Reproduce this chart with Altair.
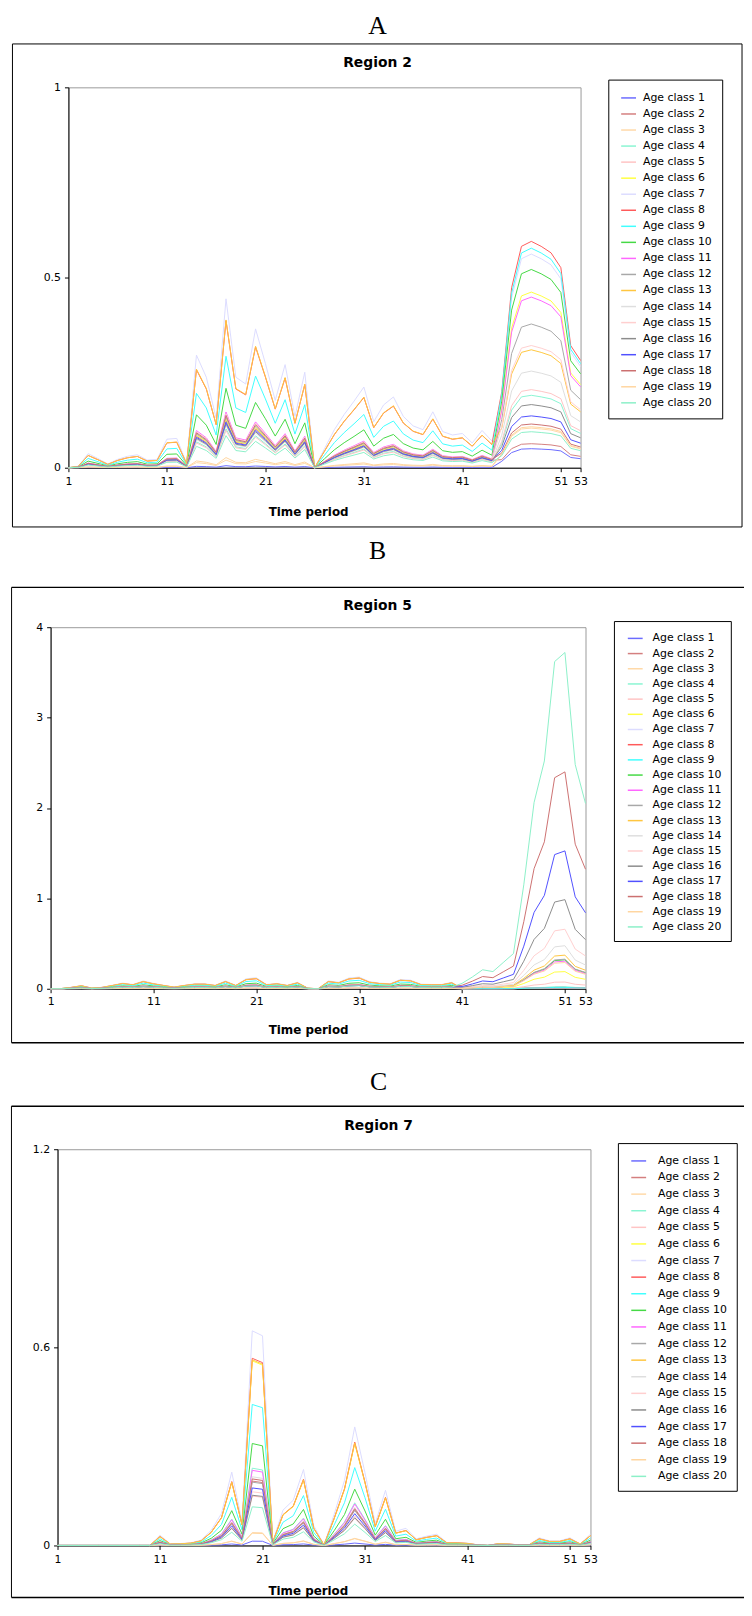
import altair as alt
import pandas as pd

# --- data ---------------------------------------------------------------
periods = list(range(1, 54))
age_classes = [f"Age class {i}" for i in range(1, 21)]
age_colors = ["#6b6bff", "#d47f7f", "#ffd9a8", "#8af5d2", "#ffc4c4",
              "#ffff40", "#dcdcff", "#ff5a5a", "#40ffff", "#45d945",
              "#ff66ff", "#a8a8a8", "#ffc640", "#dedede", "#ffcfcf",
              "#8c8c8c", "#5050ff", "#cc7070", "#ffd6a0", "#8cf0c8"]
x_ticks = [1, 11, 21, 31, 41, 51, 53]

# Region 2: level of the top line per period, and each age class relative to it
r2_level = [0.000, 0.004, 0.037, 0.024, 0.010, 0.022, 0.030, 0.034, 0.020, 0.022,
            0.075, 0.077, 0.012, 0.296, 0.238, 0.130, 0.444, 0.238, 0.220, 0.365,
            0.274, 0.177, 0.271, 0.134, 0.251, 0.000, 0.050, 0.100, 0.140, 0.175,
            0.212, 0.121, 0.165, 0.186, 0.135, 0.110, 0.100, 0.147, 0.095, 0.086,
            0.090, 0.065, 0.098, 0.070, 0.200, 0.473, 0.582, 0.595, 0.582, 0.565,
            0.526, 0.321, 0.282]
r2_share_early = [0.012, 0.28, 0.045, 0.23, 0.22, 0.29, 1.0, 0.87, 0.66, 0.47,
                  0.33, 0.30, 0.875, 0.25, 0.32, 0.26, 0.27, 0.31, 0.06, 0.19]
r2_share_late = [0.084, 0.106, 0.175, 0.32, 0.345, 0.776, 0.944, 1.0, 0.97, 0.876,
                 0.754, 0.635, 0.521, 0.427, 0.54, 0.279, 0.229, 0.193, 0.181, 0.159]
r2_late_from = 45

# Region 5
r5_level = [0.000, 0.002, 0.015, 0.033, 0.007, 0.015, 0.036, 0.058, 0.044, 0.080,
            0.055, 0.036, 0.018, 0.036, 0.051, 0.051, 0.036, 0.080, 0.036, 0.102,
            0.113, 0.044, 0.055, 0.036, 0.066, 0.007, 0.000, 0.080, 0.066, 0.110,
            0.120, 0.073, 0.058, 0.051, 0.095, 0.088, 0.047, 0.044, 0.044, 0.066,
            0.060, 0.130, 0.210, 0.190, 0.290, 0.390, 1.150, 2.060, 2.520, 3.620,
            3.720, 2.480, 2.050]
r5_share_early = [0.05, 0.30, 0.06, 0.35, 0.30, 0.35, 1.08, 0.98, 0.78, 0.55,
                  0.40, 0.35, 1.0, 0.30, 0.38, 0.30, 0.30, 0.36, 0.08, 0.28]
r5_share_late = [0.004, 0.004, 0.004, 0.006, 0.02, 0.051, 0.004, 0.004, 0.004, 0.086,
                 0.082, 0.088, 0.100, 0.128, 0.177, 0.265, 0.41, 0.645, 0.078, 1.0]
r5_late_from = 41

# Region 7
r7_level = [0.000, 0.000, 0.000, 0.000, 0.000, 0.000, 0.000, 0.000, 0.000, 0.000,
            0.031, 0.005, 0.006, 0.008, 0.016, 0.046, 0.097, 0.222, 0.072, 0.650,
            0.635, 0.012, 0.107, 0.137, 0.230, 0.060, 0.002, 0.095, 0.197, 0.359,
            0.220, 0.066, 0.167, 0.043, 0.052, 0.020, 0.028, 0.034, 0.009, 0.009,
            0.007, 0.002, 0.000, 0.006, 0.005, 0.002, 0.002, 0.023, 0.014, 0.014,
            0.023, 0.005, 0.034]
r7_share = [0.02, 0.30, 0.06, 0.36, 0.23, 0.86, 1.0, 0.872, 0.657, 0.475,
            0.35, 0.295, 0.865, 0.32, 0.25, 0.234, 0.268, 0.31, 0.057, 0.18]


def build(level, early, late, late_from):
    rows = []
    for i, name in enumerate(age_classes):
        for t, lv in zip(periods, level):
            s = late[i] if t >= late_from else early[i]
            rows.append({"period": t, "age": name, "value": lv * s})
    return pd.DataFrame(rows)


def one_row():
    return alt.Chart(pd.DataFrame({"k": [0]}))


def panel(df, letter, region, ymax, yticks, g):
    deco = one_row()
    bx0, bx1, by0, by1 = g["band"]
    # invisible band: fixes the panel's extent in the layout
    layers = [deco.mark_rect(fill="white", fillOpacity=0, strokeOpacity=0).encode(
        x=alt.value(bx0), x2=alt.value(bx1), y=alt.value(by0), y2=alt.value(by1))]
    # panel frame
    for x1, y1, x2, y2, sw in g["frame"]:
        layers.append(deco.mark_rule(color="black", strokeWidth=sw).encode(
            x=alt.value(x1), y=alt.value(y1), x2=alt.value(x2), y2=alt.value(y2)))

    lines = alt.Chart(df).mark_line(strokeWidth=1).encode(
        x=alt.X("period:Q", scale=alt.Scale(domain=[1, 53], nice=False, zero=False),
                axis=alt.Axis(values=x_ticks, title="Time period", grid=False,
                              labelOverlap=False, labelFlush=False, tickSize=4,
                              labelPadding=g["xpad"], titleX=g["tx"], titleY=g["ty"],
                              titleAlign="center", titleBaseline="middle")),
        y=alt.Y("value:Q", scale=alt.Scale(domain=[0, ymax], nice=False),
                axis=alt.Axis(values=yticks, title=None, grid=False, format=".1~f",
                              tickSize=4, labelPadding=4, labelFlush=False)),
        color=alt.Color("age:N", scale=alt.Scale(domain=age_classes, range=age_colors),
                        legend=alt.Legend(title=None, orient="none",
                                          legendX=g["lx"], legendY=g["ly"],
                                          symbolType="stroke", symbolSize=225,
                                          symbolStrokeWidth=1.5, symbolOffset=g["so"],
                                          rowPadding=g["rp"], padding=g["lp"],
                                          labelOffset=g["lo"], labelFont="DejaVu Sans",
                                          labelFontSize=11, labelColor="black",
                                          strokeColor="black", fillColor="white")),
    )
    layers.append(lines)

    layers.append(deco.mark_text(font="Liberation Serif", fontSize=26, align="center",
                                 baseline="middle", color="black").encode(
        x=alt.value(g["letter"][0]), y=alt.value(g["letter"][1]), text=alt.value(letter)))
    layers.append(deco.mark_text(font="DejaVu Sans", fontSize=14, fontWeight="bold",
                                 align="center", baseline="middle", color="black").encode(
        x=alt.value(g["title"][0]), y=alt.value(g["title"][1]), text=alt.value(region)))
    body = alt.layer(*layers).properties(width=g["w"], height=g["h"])

    # 1px spacer so each panel keeps its own left offset inside the column
    spacer = one_row().mark_rect(fillOpacity=0, strokeOpacity=0).encode(
        x=alt.value(0), x2=alt.value(1), y=alt.value(0), y2=alt.value(1)
    ).properties(width=1, height=1, view=alt.ViewBackground(stroke="transparent"))
    return alt.hconcat(spacer, body, spacing=0).resolve_scale(color="independent")


geo_a = dict(w=517, h=384, band=(-57.7, 684, -76.5, 450.8),
             frame=[(-56.5, -43.8, 680, -43.8, 1), (-56.5, 443.8, 680, 443.8, 1),
                    (-56.5, -43.8, -56.5, 443.8, 1), (680, -43.8, 680, 443.8, 1)],
             letter=(312, -62), title=(312, -24.5), tx=242, ty=44, xpad=4,
             lx=545, ly=-7.8, rp=2.2, lp=10, so=2, lo=6)
geo_b = dict(w=540, h=365, band=(-39.9, 702, -92.3, 433),
             frame=[(-39.4, -40.2, 702, -40.2, 1.5), (-39.4, 419.5, 702, 419.5, 1.5),
                    (-39.4, -40.2, -39.4, 419.5, 1)],
             letter=(330, -76.8), title=(330, -21.8), tx=260, ty=41, xpad=3,
             lx=568.7, ly=-6.2, rp=1.33, lp=9, so=4, lo=9)
geo_c = dict(w=538, h=400, band=(-45.9, 696, -92, 454),
             frame=[(-46.5, -43.5, 696, -43.5, 1.5), (-46.5, 452.5, 696, 452.5, 1.5),
                    (-46.5, -43.5, -46.5, 452.5, 1)],
             letter=(324, -67.5), title=(324, -23.5), tx=252.7, ty=45, xpad=3.8,
             lx=565.7, ly=-6.2, rp=2.76, lp=9.5, so=3, lo=11)

pa = panel(build(r2_level, r2_share_early, r2_share_late, r2_late_from),
           "A", "Region 2", 1, [0, 0.5, 1], geo_a)
pb = panel(build(r5_level, r5_share_early, r5_share_late, r5_late_from),
           "B", "Region 5", 4, [0, 1, 2, 3, 4], geo_b)
pc = panel(build(r7_level, r7_share, r7_share, 99),
           "C", "Region 7", 1.2, [0, 0.6, 1.2], geo_c)

# fixed canvas: the first plot's origin sits at the top-left padding
chart = alt.vconcat(pa, pb, pc, spacing=0).resolve_scale(
    color="independent"
).properties(
    autosize=alt.AutoSizeParams(type="none"),
    padding={"left": 0, "top": 72.5, "right": 743, "bottom": 1523.5},
).configure_view(
    stroke="#9a9a9a", strokeWidth=1
).configure_axis(
    labelFont="DejaVu Sans", labelFontSize=11, labelColor="black",
    domainColor="black", tickColor="black",
    titleFont="DejaVu Sans", titleFontSize=12, titleFontWeight="bold", titleColor="black"
)

chart.save("out.html", embed_options={"renderer": "svg", "actions": False})
